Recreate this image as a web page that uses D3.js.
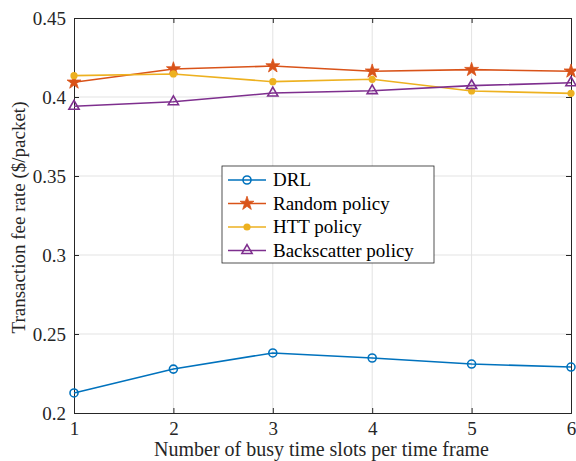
<!DOCTYPE html>
<html>
<head>
<meta charset="utf-8">
<script src="https://cdn.jsdelivr.net/npm/d3@7"></script>
<style>
  body { margin: 0; background: #fff; }
  svg text { font-family: "Liberation Serif", "Times New Roman", Times, "DejaVu Serif", serif; }
</style>
</head>
<body>
<div id="chart"></div>
<script>
var svgWidth = 576;
var svgHeight = 461;

var margin = { top: 18, right: 5, bottom: 48, left: 74 };
var width = svgWidth - margin.left - margin.right;
var height = svgHeight - margin.top - margin.bottom;
var serif = "'Liberation Serif', 'Times New Roman', Times, 'DejaVu Serif', serif";

// data
var slots = [1, 2, 3, 4, 5, 6];
var drl = [0.2127, 0.2278, 0.2380, 0.2348, 0.2310, 0.2291];
var randomPolicy = [0.4093, 0.4177, 0.4196, 0.4163, 0.4173, 0.4163];
var httPolicy = [0.4135, 0.4146, 0.4097, 0.4112, 0.4038, 0.4023];
var backscatterPolicy = [0.3941, 0.3970, 0.4025, 0.4040, 0.4072, 0.4090];
var yTicks = [0.2, 0.25, 0.3, 0.35, 0.4, 0.45];

var series = [
  { name: "DRL", values: drl, color: "#0072BD", marker: "circle" },
  { name: "Random policy", values: randomPolicy, color: "#D95319", marker: "star" },
  { name: "HTT policy", values: httPolicy, color: "#EDB120", marker: "dot" },
  { name: "Backscatter policy", values: backscatterPolicy, color: "#7E2F8E", marker: "triangle" }
];

var svg = d3.select("#chart").append("svg")
  .attr("width", svgWidth)
  .attr("height", svgHeight);

var chartGroup = svg.append("g")
  .attr("transform", `translate(${margin.left}, ${margin.top})`);

var x = d3.scaleLinear().domain([1, 6]).range([0, width]);
var y = d3.scaleLinear().domain([0.2, 0.45]).range([height, 0]);

// grid
chartGroup.append("g").selectAll("line.gx")
  .data(slots.slice(1, -1)).enter().append("line")
  .attr("x1", d => x(d)).attr("x2", d => x(d))
  .attr("y1", 0).attr("y2", height)
  .attr("stroke", "#e3e3e3").attr("stroke-width", 1);
chartGroup.append("g").selectAll("line.gy")
  .data(yTicks.slice(1, -1)).enter().append("line")
  .attr("x1", 0).attr("x2", width)
  .attr("y1", d => y(d)).attr("y2", d => y(d))
  .attr("stroke", "#e3e3e3").attr("stroke-width", 1);

// axes
function styleAxis(g) {
  g.attr("font-family", null).attr("font-size", null);
  g.select(".domain").attr("stroke", "#262626");
  g.selectAll(".tick line").attr("stroke", "#262626");
  g.selectAll(".tick text").attr("fill", "#262626")
    .style("font-family", serif).style("font-size", "19px");
}

var bottomAxis = d3.axisBottom(x).tickValues(slots).tickSize(-5).tickPadding(9).tickFormat(d3.format("d"));
var leftAxis = d3.axisLeft(y).tickValues(yTicks).tickSize(-5).tickPadding(8).tickFormat(d => String(d));

chartGroup.append("g").attr("transform", `translate(0, ${height})`).call(bottomAxis).call(styleAxis);
chartGroup.append("g").call(leftAxis).call(styleAxis);
chartGroup.append("g").call(d3.axisTop(x).tickValues(slots).tickSize(-5).tickFormat("")).call(styleAxis);
chartGroup.append("g").attr("transform", `translate(${width}, 0)`)
  .call(d3.axisRight(y).tickValues(yTicks).tickSize(-5).tickFormat("")).call(styleAxis);

// lines
var line = d3.line().x((d, i) => x(slots[i])).y(d => y(d));

function drawMarker(g, type, color) {
  if (type === "circle") {
    g.append("circle").attr("r", 4).attr("fill", "none").attr("stroke", color).attr("stroke-width", 1.6);
  } else if (type === "star") {
    g.append("path").attr("d", d3.symbol().type(d3.symbolStar).size(60)())
      .attr("fill", color).attr("stroke", color).attr("stroke-width", 0.8);
  } else if (type === "dot") {
    g.append("circle").attr("r", 3.6).attr("fill", color);
  } else if (type === "triangle") {
    g.append("path").attr("d", d3.symbol().type(d3.symbolTriangle).size(45)())
      .attr("fill", "none").attr("stroke", color).attr("stroke-width", 1.6);
  }
}

series.forEach(function(s) {
  chartGroup.append("path")
    .datum(s.values)
    .attr("d", line)
    .attr("fill", "none")
    .attr("stroke", s.color)
    .attr("stroke-width", 1.6);
  s.values.forEach(function(v, i) {
    var g = chartGroup.append("g").attr("transform", `translate(${x(slots[i])}, ${y(v)})`);
    drawMarker(g, s.marker, s.color);
  });
});

// legend
var legend = svg.append("g").attr("transform", "translate(222, 166)");
legend.append("rect")
  .attr("width", 212).attr("height", 97)
  .attr("fill", "#fff").attr("stroke", "#262626").attr("stroke-width", 0.8);
series.forEach(function(s, i) {
  var row = legend.append("g").attr("transform", `translate(0, ${14 + i * 23.5})`);
  row.append("line").attr("x1", 6).attr("x2", 44).attr("y1", 0).attr("y2", 0)
    .attr("stroke", s.color).attr("stroke-width", 1.6);
  var m = row.append("g").attr("transform", "translate(25, 0)");
  drawMarker(m, s.marker, s.color);
  row.append("text").attr("x", 51).attr("y", 6)
    .style("font-family", serif).style("font-size", "19px").attr("fill", "#000")
    .text(s.name);
});

// axis labels
svg.append("text")
  .attr("x", margin.left + width / 2 - 1).attr("y", 456)
  .attr("text-anchor", "middle")
  .style("font-family", serif).style("font-size", "20px").attr("fill", "#262626")
  .text("Number of busy time slots per time frame");

svg.append("text")
  .attr("transform", `translate(25, ${margin.top + height / 2 + 2}) rotate(-90)`)
  .attr("text-anchor", "middle")
  .style("font-family", serif).style("font-size", "19px").attr("fill", "#262626")
  .text("Transaction fee rate ($/packet)");
</script>
</body>
</html>
